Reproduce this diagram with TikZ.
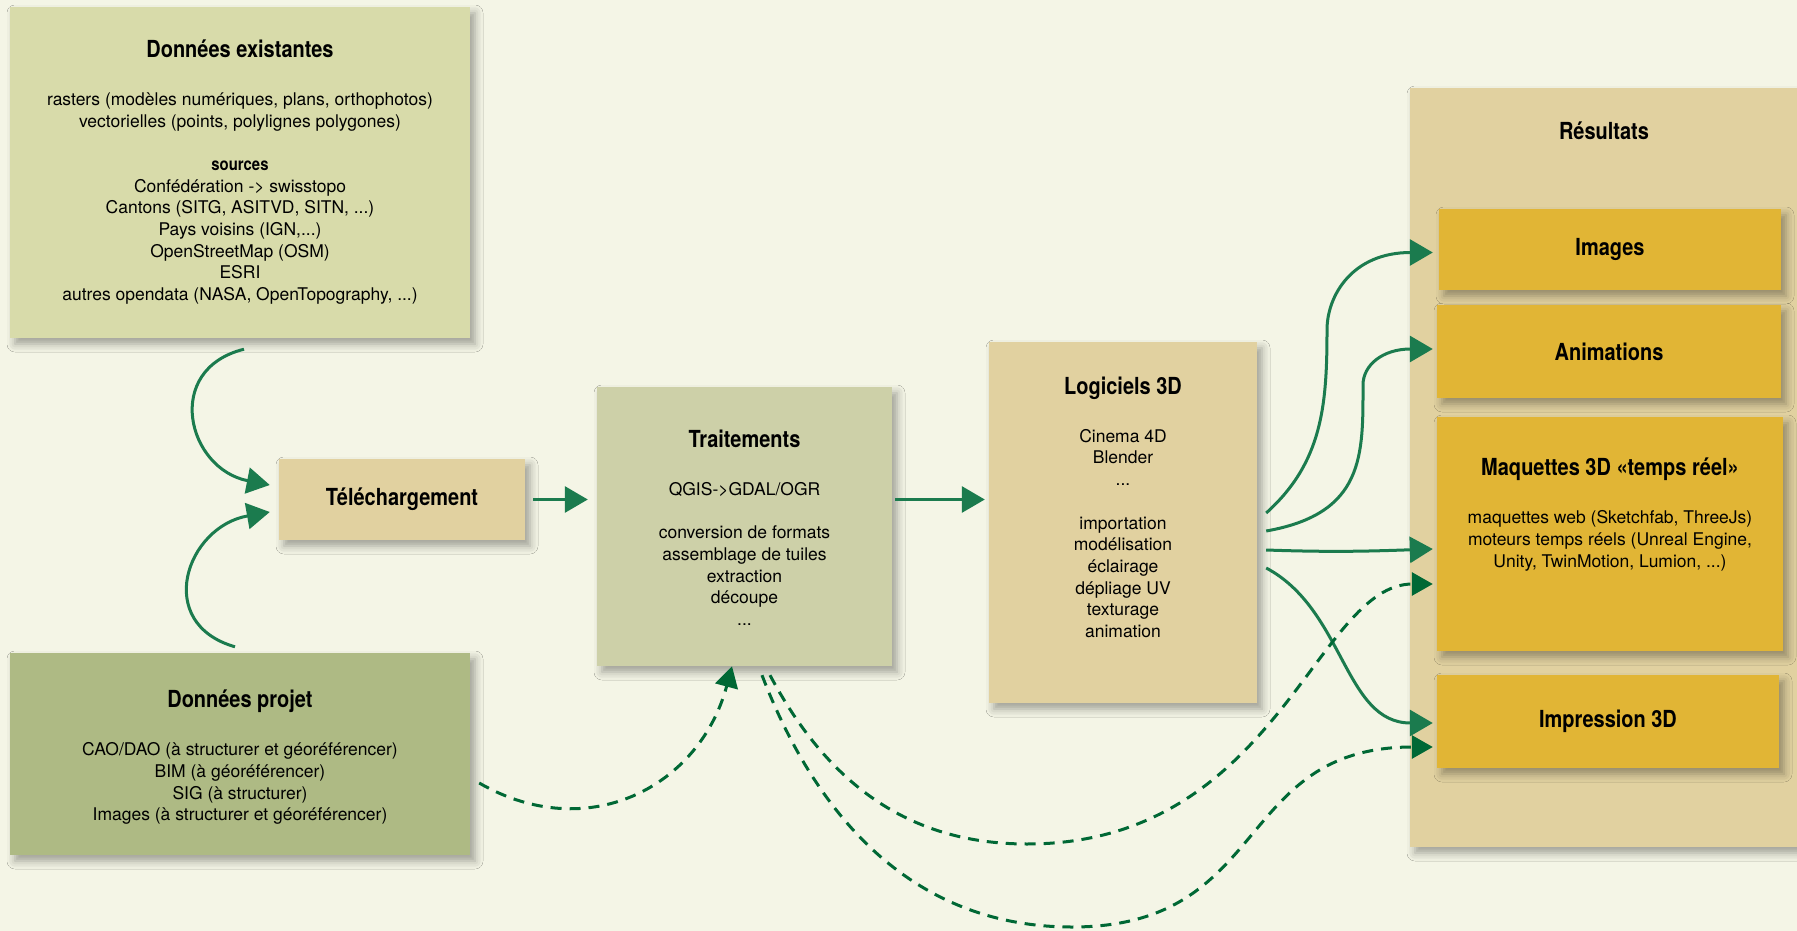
\documentclass[tikz,border=0pt]{standalone}
\usepackage{fontspec}
\setmainfont{TeX Gyre Heros}
\newfontfamily\titrefont[FakeStretch=0.85]{TeX Gyre Heros}
\usetikzlibrary{arrows.meta,positioning,shadows.blur}

\definecolor{fond}{RGB}{244,245,230}
\definecolor{vertclair}{RGB}{216,219,170}
\definecolor{vertprojet}{RGB}{174,186,132}
\definecolor{vertgris}{RGB}{205,208,168}
\definecolor{sable}{RGB}{225,209,160}
\definecolor{moutarde}{RGB}{225,181,53}
\definecolor{flechevert}{RGB}{27,123,78}
\definecolor{tiretvert}{RGB}{0,104,53}

\newcommand{\titre}[1]{{\titrefont\bfseries\fontsize{23.5}{28}\selectfont #1}}
\newcommand{\sstitre}[1]{{\titrefont\bfseries #1}}

\tikzset{
  boite/.style={draw=none, inner sep=0pt,
    blur shadow={shadow xshift=5pt, shadow yshift=-6pt, shadow blur radius=8pt, shadow opacity=35}},
  texte/.style={align=center, inner sep=0pt, anchor=north, font=\fontsize{17.5}{21.7}\selectfont},
  etiquette/.style={font=\titrefont\bfseries\fontsize{23.5}{28}\selectfont},
  fleche/.style={line width=3pt, flechevert, -{Triangle[length=23pt,width=26pt]}},
  tiret/.style={line width=3pt, tiretvert, dash pattern=on 11pt off 8pt, -{Triangle[length=21pt,width=23pt]}},
}

\begin{document}
\begin{tikzpicture}[x=1pt,y=1pt]
    \useasboundingbox (0,0) rectangle (1797,-931);
    \fill[fond] (0,0) rectangle (1797,-931);

    % sources de donnees
    \node[boite, fill=vertclair, minimum width=460pt, minimum height=331pt] (dex) at (240,-172.5) {};
    \node[texte, below=32.5pt of dex.north] (dextxt) {\titre{Données existantes}\\[26.5pt]
        rasters (modèles numériques, plans, orthophotos)\\
        vectorielles (points, polylignes polygones)\\[21.7pt]
        \sstitre{sources}\\
        Confédération -> swisstopo\\
        Cantons (SITG, ASITVD, SITN, ...)\\
        Pays voisins (IGN,...)\\
        OpenStreetMap (OSM)\\
        ESRI\\
        autres opendata (NASA, OpenTopography, ...)};

    \node[boite, fill=vertprojet, minimum width=460pt, minimum height=202pt] (dpr) at (240,-754) {};
    \node[texte, below=37pt of dpr.north] (dprtxt) {\titre{Données projet}\\[26.5pt]
        CAO/DAO (à structurer et géoréférencer)\\
        BIM (à géoréférencer)\\
        SIG (à structurer)\\
        Images (à structurer et géoréférencer)};

    \node[boite, etiquette, fill=sable, minimum width=246pt, minimum height=81pt] (tel) at (402,-499.5) {Téléchargement};

    % traitements et logiciels
    \node[boite, fill=vertgris, minimum width=295pt, minimum height=279pt] (trt) at (744.5,-526.5) {};
    \node[texte, below=42.5pt of trt.north] (trttxt) {\titre{Traitements}\\[26.5pt]
        QGIS->GDAL/OGR\\[21.7pt]
        conversion de formats\\
        assemblage de tuiles\\
        extraction\\
        découpe\\
        ...};

    \node[boite, fill=sable, minimum width=268pt, minimum height=361pt] (log) at (1123,-522.5) {};
    \node[texte, below=34.5pt of log.north] (logtxt) {\titre{Logiciels 3D}\\[26.5pt]
        Cinema 4D\\
        Blender\\
        ...\\[21.7pt]
        importation\\
        modélisation\\
        éclairage\\
        dépliage UV\\
        texturage\\
        animation};

    % resultats
    \node[boite, fill=sable, minimum width=388pt, minimum height=759pt] (res) at (1604,-467.5) {};
    \node[etiquette, inner sep=0pt, below=34pt of res.north] (restitre) {Résultats};
    \node[boite, etiquette, fill=moutarde, minimum width=342pt, minimum height=81pt] (img) at (1610,-249.5) {Images};
    \node[boite, etiquette, fill=moutarde, minimum width=344pt, minimum height=93pt] (ani) at (1609,-351.5) {Animations};
    \node[boite, fill=moutarde, minimum width=346pt, minimum height=234pt] (maq) at (1610,-534) {};
    \node[texte, below=41pt of maq.north] (maqtxt) {\titre{Maquettes 3D «temps réel»}\\[26.5pt]
        maquettes web (Sketchfab, ThreeJs)\\
        moteurs temps réels (Unreal Engine,\\
        Unity, TwinMotion, Lumion, ...)};
    \node[boite, etiquette, fill=moutarde, minimum width=342pt, minimum height=93pt] (imp) at (1608,-721.5) {Impression 3D};

    % fleches vers le telechargement
    \draw[fleche] ([xshift=4pt,yshift=-11pt]dex.south) to[out=194,in=169,distance=84pt] ([xshift=-9pt,yshift=14.5pt]tel.west);
    \draw[fleche] ([xshift=-5pt,yshift=6pt]dpr.north) to[out=164,in=190,distance=85pt] ([xshift=-9pt,yshift=-12.5pt]tel.west);

    \draw[fleche, shorten <=8pt, shorten >=9pt] (tel.east) -- (trt.west |- tel.east);
    \draw[fleche, shorten <=3pt, shorten >=4pt] (trt.east |- tel.east) -- (log.west |- tel.east);

    % eventail vers les resultats
    \draw[fleche] ([xshift=9pt,yshift=9.5pt]log.east) to[out=42,in=-90] (1327,-330)
        to[out=90,in=180,out distance=35pt,in distance=80pt] ([xshift=-6pt,yshift=-3pt]img.west);
    \draw[fleche] ([xshift=9pt,yshift=-8.5pt]log.east) to[out=10,in=-90,out distance=100pt,in distance=70pt] (1363,-385)
        to[out=90,in=180,out distance=20pt,in distance=50pt] ([xshift=-4pt,yshift=2.5pt]ani.west);
    \draw[fleche] ([xshift=9pt,yshift=-27.5pt]log.east) to[out=-2,in=182] ([xshift=-4pt,yshift=-15pt]maq.west);
    \draw[fleche] ([xshift=9pt,yshift=-45.5pt]log.east) to[out=-28,in=180] ([xshift=-4pt,yshift=-1.5pt]imp.west);

    % liaisons en tirets
    \draw[tiret] ([xshift=9pt,yshift=-29pt]dpr.east) to[out=-30,in=255,distance=125pt] ([xshift=-12.5pt]trt.south);
    \draw[tiret] ([xshift=25.5pt,yshift=-9pt]trt.south) to[out=-62,in=180] (1027,-844)
        to[out=0,in=180,out distance=250pt,in distance=117pt] ([xshift=-4pt,yshift=-50pt]maq.west);
    \draw[tiret] ([xshift=17.5pt,yshift=-9pt]trt.south) to[out=-69,in=180] (1072,-927)
        to[out=0,in=180,distance=200pt] ([xshift=-4pt,yshift=-25.5pt]imp.west);

\end{tikzpicture}
\end{document}
